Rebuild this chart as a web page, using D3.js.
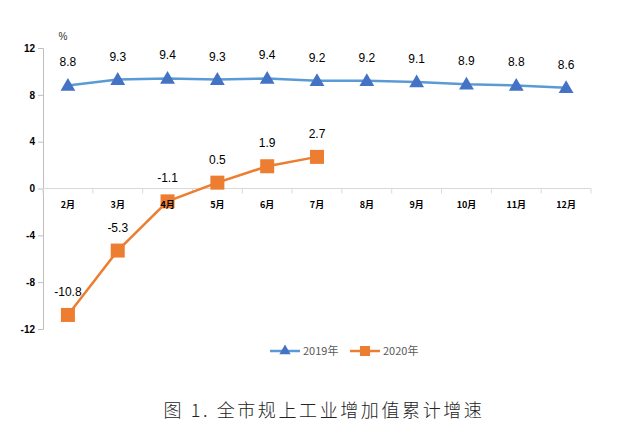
<!DOCTYPE html>
<html><head><meta charset="utf-8">
<script src="https://cdn.jsdelivr.net/npm/d3@7"></script>
<style>body{margin:0;background:#fff;}svg{display:block;}</style>
</head><body>
<svg id="c" width="634" height="434"></svg>
<script>
const categories = ["2月","3月","4月","5月","6月","7月","8月","9月","10月","11月","12月"];
const values2019 = [8.8,9.3,9.4,9.3,9.4,9.2,9.2,9.1,8.9,8.8,8.6];
const values2020 = [-10.8,-5.3,-1.1,0.5,1.9,2.7];
const yTicks = [-12,-8,-4,0,4,8,12];
const seriesNames = ["2019年","2020年"];
const titleText = "图 1. 全市规上工业增加值累计增速";

const svg = d3.select("#c");
const x = d3.scaleBand().domain(categories).range([43, 591]);
const y = d3.scaleLinear().domain([-12, 12]).range([329, 48]);
const blueLine = "#5B9BD5", blueMark = "#4472C4", orange = "#ED7D31";

// y axis
const ya = svg.append("g").attr("transform","translate(43,0)")
  .call(d3.axisLeft(y).tickValues(yTicks).tickFormat(d=>String(d)).tickSize(5).tickPadding(3));
ya.select(".domain").attr("stroke","#bfbfbf");
ya.selectAll(".tick line").attr("stroke","#bfbfbf");
ya.selectAll(".tick text").attr("font-family","Liberation Sans, Arial").attr("font-size",10).attr("font-weight","bold").attr("fill","#000");

// zero axis line
svg.append("line").attr("x1",43).attr("x2",591).attr("y1",y(0)).attr("y2",y(0)).attr("stroke","#d9d9d9");
// band boundary ticks
svg.append("g").selectAll("line").data(categories.concat(["_end"])).join("line")
  .attr("x1",(d,i)=> 43 + i*x.step()).attr("x2",(d,i)=> 43 + i*x.step())
  .attr("y1", y(0)).attr("y2", y(0)+5).attr("stroke","#d9d9d9");

svg.append("text").attr("x",63).attr("y",40).attr("text-anchor","middle")
  .attr("font-family","Liberation Sans, Arial").attr("font-size",10).attr("fill","#333").text("%");

const cx = (i)=> x(categories[i]) + x.bandwidth()/2;
const line = d3.line().x((d,i)=>cx(i)).y(d=>y(d));

svg.append("path").datum(values2019).attr("d",line).attr("fill","none").attr("stroke",blueLine).attr("stroke-width",2.5);
svg.append("path").datum(values2020).attr("d",line).attr("fill","none").attr("stroke",orange).attr("stroke-width",2.5);

const tri = d3.symbol().type(d3.symbolTriangle).size(95);
svg.append("g").selectAll("path").data(values2019).join("path")
  .attr("d",tri).attr("transform",(d,i)=>`translate(${cx(i)},${y(d)+1})`).attr("fill",blueMark);
svg.append("g").selectAll("rect").data(values2020).join("rect")
  .attr("x",(d,i)=>cx(i)-7).attr("y",d=>y(d)-7).attr("width",14).attr("height",14).attr("fill",orange);

// category labels drawn on top of marks
const xa = svg.append("g").attr("transform",`translate(0,${y(0)})`)
  .call(d3.axisBottom(x).tickSize(0).tickPadding(13));
xa.select(".domain").remove();
xa.selectAll(".tick text").attr("font-family","Noto Sans CJK SC").attr("font-size",9).attr("font-weight","bold").attr("fill","#000");

const lblFont = "Liberation Sans, Arial";
const fmt = d => d.toFixed(1).replace("\u2212","-");
svg.append("g").selectAll("text").data(values2019).join("text")
  .attr("x",(d,i)=>cx(i)).attr("y",d=>y(d)-19).attr("text-anchor","middle")
  .attr("font-family",lblFont).attr("font-size",12).attr("fill","#000").text(fmt);
svg.append("g").selectAll("text").data(values2020).join("text")
  .attr("x",(d,i)=>cx(i)).attr("y",d=>y(d)-19).attr("text-anchor","middle")
  .attr("font-family",lblFont).attr("font-size",12).attr("fill","#000").text(fmt);

// legend
const lg = svg.append("g");
lg.append("line").attr("x1",270).attr("x2",300).attr("y1",351).attr("y2",351).attr("stroke",blueLine).attr("stroke-width",2.5);
lg.append("path").attr("d",d3.symbol().type(d3.symbolTriangle).size(55)).attr("transform","translate(285,351)").attr("fill",blueMark);
lg.append("text").attr("x",303).attr("y",355).attr("font-family","Noto Sans CJK SC").attr("font-size",11).attr("fill","#595959").text(seriesNames[0]);
lg.append("line").attr("x1",350).attr("x2",380).attr("y1",351).attr("y2",351).attr("stroke",orange).attr("stroke-width",2.5);
lg.append("rect").attr("x",360).attr("y",346).attr("width",10).attr("height",10).attr("fill",orange);
lg.append("text").attr("x",383).attr("y",355).attr("font-family","Noto Sans CJK SC").attr("font-size",11).attr("fill","#595959").text(seriesNames[1]);

svg.append("text").attr("x",324).attr("y",417).attr("text-anchor","middle")
  .attr("font-family","Noto Sans CJK SC").attr("font-size",18).attr("font-weight",300).attr("letter-spacing",2.6)
  .attr("fill","#222").text(titleText);
</script>
</body></html>
